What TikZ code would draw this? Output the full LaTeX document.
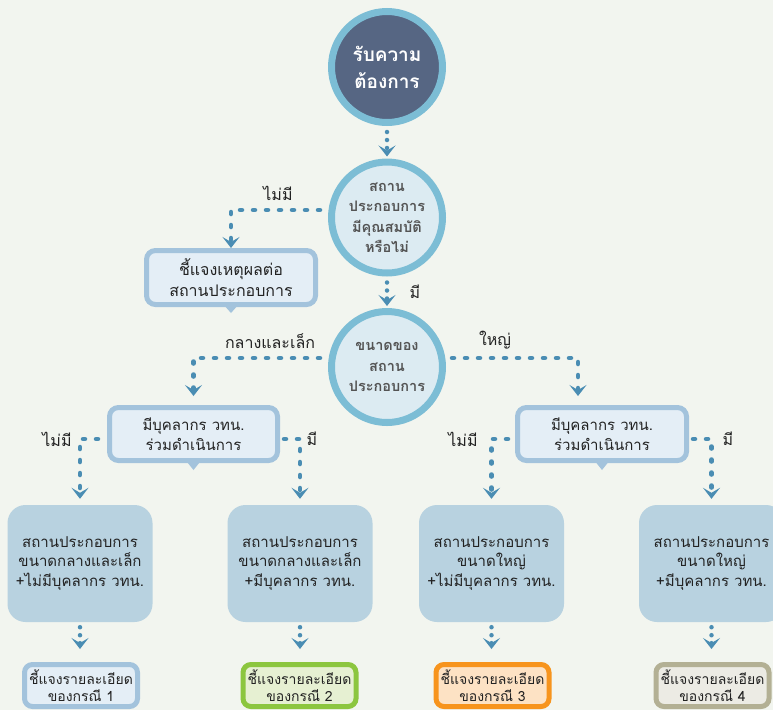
\documentclass[tikz,border=0pt]{standalone}
\usepackage{fontspec}
\newfontfamily\thai[Script=Thai]{Loma}
\usetikzlibrary{arrows.meta}
\definecolor{bgc}{HTML}{F2F5EF}
\definecolor{ringc}{HTML}{7CBDD5}
\definecolor{darkf}{HTML}{566683}
\definecolor{lightf}{HTML}{DCEBF2}
\definecolor{dotc}{HTML}{4A8DB3}
\definecolor{boxb}{HTML}{A3C3DC}
\definecolor{boxf}{HTML}{E4EEF6}
\definecolor{bigf}{HTML}{B8D2E0}
\definecolor{greenb}{HTML}{8CC63F}
\definecolor{greenf}{HTML}{E6F0D2}
\definecolor{orangeb}{HTML}{F7941D}
\definecolor{orangef}{HTML}{FDE2C4}
\definecolor{greyb}{HTML}{B3B094}
\definecolor{greyf}{HTML}{ECEBE4}
\definecolor{txt}{HTML}{222222}
\definecolor{circtxt}{HTML}{545454}
\tikzset{
  circ/.style={circle, draw=ringc, line width=7pt, minimum size=111pt, inner sep=0pt,
    align=center, font=\thai\bfseries\fontsize{14.5}{20.5}\selectfont, text=circtxt, fill=lightf},
  rbox/.style={draw=boxb, fill=boxf, line width=5pt, rounded corners=9pt, align=center,
    inner sep=0pt, font=\thai\fontsize{15}{20}\selectfont, text=txt},
  bigbox/.style={fill=bigf, rounded corners=18pt, minimum width=145pt, minimum height=117pt,
    align=center, inner sep=0pt, font=\thai\fontsize{15}{19.5}\selectfont, text=txt},
  finbox/.style={line width=5pt, rounded corners=8pt, minimum width=113pt, minimum height=42pt,
    align=center, inner sep=0pt, font=\thai\fontsize{14}{16.5}\selectfont, text=txt},
  lbl/.style={font=\thai\fontsize{16}{18}\selectfont, text=txt, inner sep=0pt},
  chev/.tip={Stealth[length=11pt,width=17pt,inset=5pt]},
  longc/.style={draw=dotc, line width=4.5pt, line cap=round, dash pattern=on 2pt off 11pt, -chev},
  shortc/.style={draw=dotc, line width=4.5pt, line cap=round, dash pattern=on 0pt off 8pt, -chev},
}
\begin{document}
\begin{tikzpicture}[x=1pt,y=-1pt]
\useasboundingbox (0,0) rectangle (773,710);
\clip (0,0) rectangle (773,710);
\fill[bgc] (0,0) rectangle (773,710);

% circles
\node[circ, fill=darkf, text=white, font=\thai\bfseries\fontsize{19}{27}\selectfont] (c1) at (387,67) {รับความ\\ต้องการ};
\node[circ] (c2) at (387,217.5) {สถาน\\ประกอบการ\\มีคุณสมบัติ\\หรือไม่};
\node[circ] (c3) at (387,367) {ขนาดของ\\สถาน\\ประกอบการ};

% reason box
\node[rbox, minimum width=169pt, minimum height=54pt, font=\thai\fontsize{16}{21}\selectfont] (r1) at (231,277.5) {ชี้แจงเหตุผลต่อ\\สถานประกอบการ};
\fill[boxb] ([shift={(-8,-3)}]r1.south) -- ([shift={(8,-3)}]r1.south) -- ([shift={(0,6)}]r1.south) -- cycle;

% middle boxes
\node[rbox, minimum width=168pt, minimum height=53pt] (m1) at (193.5,434) {มีบุคลากร วทน.\\ร่วมดำเนินการ};
\node[rbox, minimum width=169pt, minimum height=53pt] (m2) at (602,434) {มีบุคลากร วทน.\\ร่วมดำเนินการ};
\fill[boxb] ([shift={(-8,-3)}]m1.south) -- ([shift={(8,-3)}]m1.south) -- ([shift={(0,7)}]m1.south) -- cycle;
\fill[boxb] ([shift={(-8,-3)}]m2.south) -- ([shift={(8,-3)}]m2.south) -- ([shift={(0,7)}]m2.south) -- cycle;

% big boxes
\node[bigbox] (b1) at (80,563.5) {สถานประกอบการ\\ขนาดกลางและเล็ก\\+ไม่มีบุคลากร วทน.};
\node[bigbox] (b2) at (300,563.5) {สถานประกอบการ\\ขนาดกลางและเล็ก\\+มีบุคลากร วทน.};
\node[bigbox] (b3) at (491.5,563.5) {สถานประกอบการ\\ขนาดใหญ่\\+ไม่มีบุคลากร วทน.};
\node[bigbox] (b4) at (711.5,563.5) {สถานประกอบการ\\ขนาดใหญ่\\+มีบุคลากร วทน.};

% final boxes
\node[finbox, draw=boxb, fill=boxf] (f1) at (81,685.5) {ชี้แจงรายละเอียด\\ของกรณี 1};
\node[finbox, draw=greenb, fill=greenf] (f2) at (299.5,685.5) {ชี้แจงรายละเอียด\\ของกรณี 2};
\node[finbox, draw=orangeb, fill=orangef] (f3) at (492.5,685.5) {ชี้แจงรายละเอียด\\ของกรณี 3};
\node[finbox, draw=greyb, fill=greyf] (f4) at (712.5,685.5) {ชี้แจงรายละเอียด\\ของกรณี 4};

% labels
\node[lbl] (l1) at (278,193) {ไม่มี};
\node[lbl] (l2) at (415,292) {มี};
\node[lbl] (l3) at (270,341) {กลางและเล็ก};
\node[lbl] (l4) at (495,340) {ใหญ่};
\node[lbl] (l5) at (57,439) {ไม่มี};
\node[lbl] (l6) at (312,439) {มี};
\node[lbl] (l7) at (463,439) {ไม่มี};
\node[lbl] (l8) at (728,439) {มี};

% connectors
\draw[shortc, shorten <=6pt, shorten >=2pt] (c1) -- (c2);
\draw[shortc, shorten <=6pt, shorten >=2pt] (c2) -- (c3);
\draw[longc, shorten >=0pt] ([shift={(-8,-7.5)}]c2.west) -| (r1.north);
\draw[longc, shorten >=9pt] ([shift={(-8,-9)}]c3.west) -| (m1.north);
\draw[longc, shorten >=9pt] ([shift={(6,-9)}]c3.east) -| ([xshift=-24pt]m2.north);
\draw[longc, shorten >=6pt] ([shift={(-9,5)}]m1.west) -| (b1.north);
\draw[longc, shorten >=6pt] ([shift={(4,5)}]m1.east) -| (b2.north);
\draw[longc, shorten >=6pt] ([shift={(-7,5)}]m2.west) -| (b3.north);
\draw[longc, shorten >=6pt] ([shift={(4,5)}]m2.east) -| (b4.north);
\draw[shortc, shorten <=5pt, shorten >=13pt] (b1.south) -- (b1.south |- f1.north);
\draw[shortc, shorten <=5pt, shorten >=13pt] (b2.south) -- (b2.south |- f2.north);
\draw[shortc, shorten <=5pt, shorten >=13pt] (b3.south) -- (b3.south |- f3.north);
\draw[shortc, shorten <=5pt, shorten >=13pt] (b4.south) -- (b4.south |- f4.north);
\end{tikzpicture}
\end{document}
